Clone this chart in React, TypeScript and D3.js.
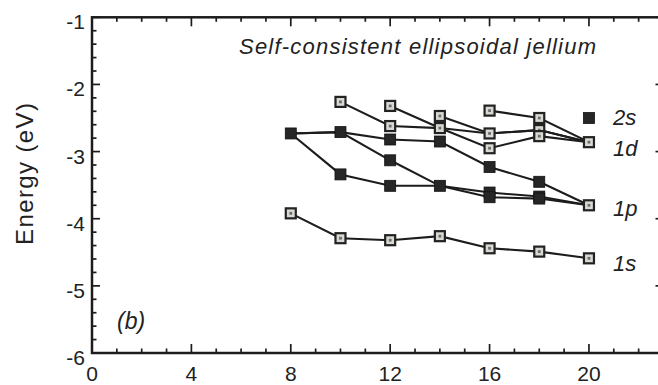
import React from "react";
import * as d3 from "d3";

// cluster sizes N and level energies (eV)
const level1s = { n: [8, 10, 12, 14, 16, 18, 20], e: [-3.92, -4.29, -4.32, -4.26, -4.44, -4.49, -4.59] };
const level1pA = { n: [8, 10, 12, 14, 16, 18, 20], e: [-2.73, -3.34, -3.51, -3.51, -3.61, -3.67, -3.8] };
const level1pB = { n: [8, 10, 12, 14, 16, 18, 20], e: [-2.73, -2.71, -3.13, -3.51, -3.68, -3.7, -3.8] };
const level1pC = { n: [8, 10, 12, 14, 16, 18, 20], e: [-2.73, -2.71, -2.82, -2.85, -3.23, -3.45, -3.8] };
const level1dA = { n: [10, 12, 14, 16, 18, 20], e: [-2.26, -2.62, -2.65, -2.73, -2.68, -2.86] };
const level1dB = { n: [12, 14, 16, 18, 20], e: [-2.32, -2.65, -2.95, -2.77, -2.86] };
const level1dC = { n: [14, 16, 18, 20], e: [-2.47, -2.73, -2.68, -2.86] };
const level1dD = { n: [16, 18, 20], e: [-2.39, -2.5, -2.86] };
const level2s = { n: [20], e: [-2.5] };

const levelLabels = ["2s", "1d", "1p", "1s"];
const labelEnergies = [-2.49, -2.94, -3.84, -4.66];

const xTicks = [0, 4, 8, 12, 16, 20];
const yTicks = [-1, -2, -3, -4, -5, -6];

const W = 658;
const H = 385;
const INK = "#1c1c1c";

const x = d3.scaleLinear().domain([0, 23]).range([92, 663.5]);
const y = d3.scaleLinear().domain([-6, -1]).range([353, 17.3]);

type Level = { n: number[]; e: number[] };
// filled = p-like levels, open = s/d-like levels; p levels end in an open box at N=20
const series: { lv: Level; kind: "open" | "filled"; openEnd?: boolean }[] = [
  { lv: level1s, kind: "open" },
  { lv: level1pA, kind: "filled", openEnd: true },
  { lv: level1pB, kind: "filled", openEnd: true },
  { lv: level1pC, kind: "filled", openEnd: true },
  { lv: level1dA, kind: "open" },
  { lv: level1dB, kind: "open" },
  { lv: level1dC, kind: "open" },
  { lv: level1dD, kind: "open" },
  { lv: level2s, kind: "filled" },
];

const line = d3
  .line<[number, number]>()
  .x((d) => x(d[0]))
  .y((d) => y(d[1]));

function Marker({ cx, cy, kind }: { cx: number; cy: number; kind: "open" | "filled" }) {
  if (kind === "filled") {
    return <rect x={cx - 5.5} y={cy - 5.5} width={11} height={11} fill="#262626" stroke="#111" strokeWidth={0.8} />;
  }
  return (
    <g>
      <rect x={cx - 5} y={cy - 5} width={10} height={10} fill="#d9d9d4" stroke="#222" strokeWidth={2.2} />
      <rect x={cx - 1.4} y={cy - 1.4} width={2.8} height={2.8} fill="#6d6d6d" />
    </g>
  );
}

export default function App() {
  const [x0, x1] = x.range();
  const [yb, yt] = y.range();

  const minorX = d3.range(0, 24, 1);
  const minorY = d3.range(-6, -0.99, 0.2);

  const markers: { cx: number; cy: number; kind: "open" | "filled" }[] = [];
  const seen = new Set<string>();
  series.forEach((s) => {
    s.lv.n.forEach((n, i) => {
      const kind = s.openEnd && i === s.lv.n.length - 1 ? "open" : s.kind;
      const key = `${n}:${s.lv.e[i]}:${kind}`;
      if (seen.has(key)) return;
      seen.add(key);
      markers.push({ cx: x(n), cy: y(s.lv.e[i]), kind });
    });
  });

  return (
    <div style={{ position: "absolute", left: 0, top: 0 }}>
      <svg width={W} height={H} style={{ display: "block", background: "#fff" }} fontFamily="'Liberation Sans', Arial, sans-serif">
        {/* ticks, inward on all four sides */}
        {minorX.map((t) => {
          const major = t % 4 === 0;
          const len = major ? 9 : 4.5;
          return (
            <g key={"tx" + t} stroke={INK} strokeWidth={1.7}>
              <line x1={x(t)} x2={x(t)} y1={yb} y2={yb - len} />
              <line x1={x(t)} x2={x(t)} y1={yt} y2={yt + len} />
            </g>
          );
        })}
        {minorY.map((t, i) => {
          const major = i % 5 === 0;
          const len = major ? 8 : 4.5;
          return (
            <g key={"ty" + i} stroke={INK} strokeWidth={1.7}>
              <line x1={x0} x2={x0 + len} y1={y(t)} y2={y(t)} />
              <line x1={x1} x2={x1 - len} y1={y(t)} y2={y(t)} />
            </g>
          );
        })}
        <rect x={x0} y={yt} width={x1 - x0} height={yb - yt} fill="none" stroke={INK} strokeWidth={2.5} />

        {/* tick labels */}
        {yTicks.map((t) => (
          <text key={"ly" + t} x={85} y={y(t) + 12} fontSize={21} textAnchor="end" fill="#222">
            {t}
          </text>
        ))}
        {xTicks.map((t) => (
          <text key={"lx" + t} x={x(t)} y={381} fontSize={21} textAnchor="middle" fill="#222">
            {t}
          </text>
        ))}

        <text
          transform={`translate(33,${174}) rotate(-90)`}
          fontSize={24}
          textAnchor="middle"
          fill="#222"
          textLength={142}
          lengthAdjust="spacing"
        >
          Energy (eV)
        </text>

        <text x={239} y={54} fontSize={22} fontStyle="italic" fill="#222" textLength={357} lengthAdjust="spacing">
          Self-consistent ellipsoidal jellium
        </text>
        <text x={117} y={329} fontSize={23} fontStyle="italic" fill="#222">
          (b)
        </text>

        {/* level curves */}
        {series.map((s, i) =>
          s.lv.n.length > 1 ? (
            <path
              key={"l" + i}
              d={line(s.lv.n.map((n, j) => [n, s.lv.e[j]] as [number, number])) || ""}
              fill="none"
              stroke={INK}
              strokeWidth={2.1}
            />
          ) : null
        )}
        {markers.map((m, i) => (
          <Marker key={"m" + i} {...m} />
        ))}

        {levelLabels.map((lab, i) => (
          <text key={lab} x={x(20) + 24} y={y(labelEnergies[i]) + 8} fontSize={22} fontStyle="italic" fill="#222">
            {lab}
          </text>
        ))}
      </svg>
    </div>
  );
}
